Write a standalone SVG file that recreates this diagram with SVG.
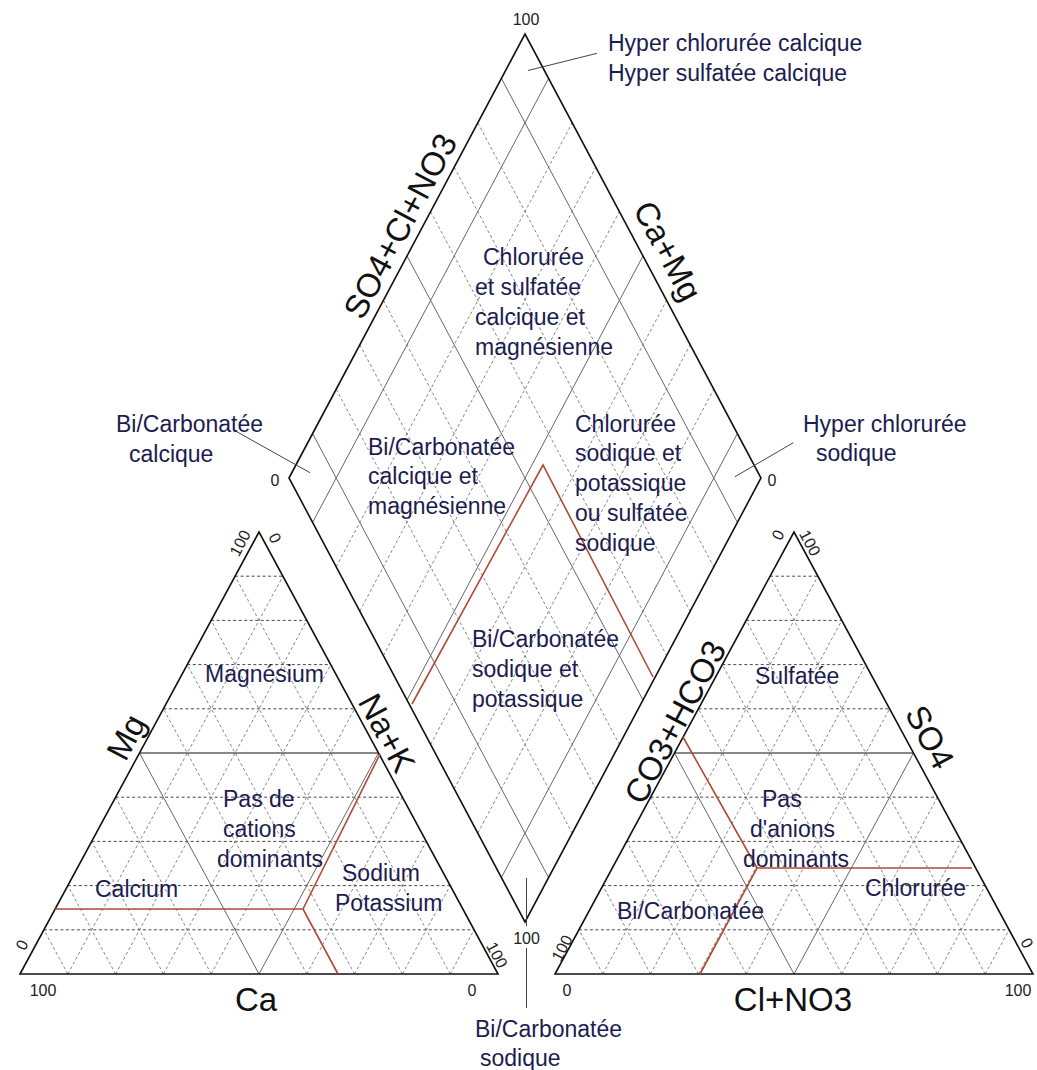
<svg xmlns="http://www.w3.org/2000/svg" xmlns:xlink="http://www.w3.org/1999/xlink" width="1037" height="1070" viewBox="0 0 1037 1070">
<style>
.out{fill:none;stroke:#111;stroke-width:1.6;stroke-linejoin:miter}
.hd{fill:none;stroke:#333;stroke-width:0.9;stroke-dasharray:3,2.5}
.dd{fill:none;stroke:#777;stroke-width:0.9;stroke-dasharray:3,2.5}
.hs{fill:none;stroke:#111;stroke-width:1}
.gs{fill:none;stroke:#666;stroke-width:1}
.red{fill:none;stroke:#b04a36;stroke-width:1.6}
.ptr{fill:none;stroke:#444;stroke-width:1}
.lbl{font-family:"Liberation Sans",Arial,sans-serif;font-size:23px;fill:#1c1c50}
.ax{font-family:"Liberation Sans",Arial,sans-serif;font-size:33px;fill:#111;text-anchor:middle}
.num{font-family:"Liberation Sans",Arial,sans-serif;font-size:16px;fill:#222;text-anchor:middle}
</style>
<defs>
<g id="tri">
<path class="hd" d="M23.9,-44.2H454.1M47.8,-88.4H430.2M71.7,-132.6H406.3M95.6,-176.8H382.4M143.4,-265.2H334.6M167.3,-309.4H310.7M191.2,-353.6H286.8M215.1,-397.8H262.9"/>
<path class="dd" d="M47.8,0L262.9,-397.8M95.6,0L286.8,-353.6M143.4,0L310.7,-309.4M191.2,0L334.6,-265.2M286.8,0L382.4,-176.8M334.6,0L406.3,-132.6M382.4,0L430.2,-88.4M430.2,0L454.1,-44.2M47.8,0L23.9,-44.2M95.6,0L47.8,-88.4M143.4,0L71.7,-132.6M191.2,0L95.6,-176.8M286.8,0L143.4,-265.2M334.6,0L167.3,-309.4M382.4,0L191.2,-353.6M430.2,0L215.1,-397.8"/>
<path class="gs" d="M119.5,-221L239,0L358.5,-221"/>
<path class="hs" d="M119.5,-221H358.5"/>
<path class="out" d="M0,0L478,0L239,-442Z"/>
</g>
</defs>

<g id="diamond" transform="translate(289,478)">
<path class="dd" d="M47.2,88.8L283.2,-355.2M70.8,133.2L306.8,-310.8M94.4,177.6L330.4,-266.4M141.6,266.4L377.6,-177.6M165.2,310.8L401.2,-133.2M188.8,355.2L424.8,-88.8M47.2,-88.8L283.2,355.2M70.8,-133.2L306.8,310.8M94.4,-177.6L330.4,266.4M141.6,-266.4L377.6,177.6M165.2,-310.8L401.2,133.2M188.8,-355.2L424.8,88.8"/>
<path class="gs" d="M23.6,44.4L259.6,-399.6M118,222L354,-222M212.4,399.6L448.4,-44.4M23.6,-44.4L259.6,399.6M118,-222L354,222M212.4,-399.6L448.4,44.4"/>
<path class="out" d="M0,0L236,-444L472,0L236,444Z"/>
</g>

<g id="cation-triangle">
<use xlink:href="#tri" href="#tri" transform="translate(20,974)"/>
</g>
<g id="anion-triangle">
<use xlink:href="#tri" href="#tri" transform="translate(555,974)"/>
</g>

<g id="connectors">
<path class="red" d="M55,909H303L380,754M303,909L338,974"/>
<path class="red" d="M412,704L543,465L653,677"/>
<path class="red" d="M700,974L757,868H972M757,868L683,737"/>
<path class="ptr" d="M528,70.5L597,53.3"/>
<path class="ptr" d="M310,472.7L236.7,431.7"/>
<path class="ptr" d="M735,476.7L793.3,442.7"/>
<path class="ptr" d="M526.5,878V926M526.5,948V1008"/>
</g>

<g id="numbers">
<text class="num" x="526" y="25">100</text>
<text class="num" x="275" y="486">0</text>
<text class="num" x="772" y="486">0</text>
<text class="num" x="526.5" y="944">100</text>
<text class="num" transform="translate(240,543) rotate(-62)" dy="0.35em">100</text>
<text class="num" transform="translate(275,538) rotate(62)" dy="0.35em">0</text>
<text class="num" transform="translate(22,945) rotate(-62)" dy="0.35em">0</text>
<text class="num" transform="translate(497,955) rotate(62)" dy="0.35em">100</text>
<text class="num" x="43" y="996">100</text>
<text class="num" x="472" y="996">0</text>
<text class="num" transform="translate(778,535) rotate(-62)" dy="0.35em">0</text>
<text class="num" transform="translate(810,543) rotate(62)" dy="0.35em">100</text>
<text class="num" transform="translate(562,948) rotate(-62)" dy="0.35em">100</text>
<text class="num" transform="translate(1027,943) rotate(62)" dy="0.35em">0</text>
<text class="num" x="567" y="996">0</text>
<text class="num" x="1018" y="996">100</text>
</g>

<g id="axis-labels">
<text class="ax" transform="translate(400,226) rotate(-62)" dy="0.35em">SO4+Cl+NO3</text>
<text class="ax" transform="translate(668,251) rotate(62)" dy="0.35em">Ca+Mg</text>
<text class="ax" transform="translate(126,737) rotate(-62)" dy="0.35em">Mg</text>
<text class="ax" transform="translate(387,733) rotate(62)" dy="0.35em">Na+K</text>
<text class="ax" transform="translate(675,722) rotate(-62)" dy="0.35em">CO3+HCO3</text>
<text class="ax" transform="translate(930,737) rotate(62)" dy="0.35em">SO4</text>
<text class="ax" x="256" y="1011">Ca</text>
<text class="ax" x="793" y="1011">Cl+NO3</text>
</g>

<g id="region-labels">
<g id="hyper-calcique"><text class="lbl" x="608" y="51">Hyper chlorurée calcique</text><text class="lbl" x="608" y="81">Hyper sulfatée calcique</text></g>
<g id="chloruree-sulfatee"><text class="lbl" x="483" y="265">Chlorurée</text><text class="lbl" x="475" y="295">et sulfatée</text><text class="lbl" x="475" y="325">calcique et</text><text class="lbl" x="475" y="355">magnésienne</text></g>
<g id="bicarb-calcique-left"><text class="lbl" x="116" y="432">Bi/Carbonatée</text><text class="lbl" x="129" y="462">calcique</text></g>
<g id="bicarb-calcique-mg"><text class="lbl" x="368" y="455">Bi/Carbonatée</text><text class="lbl" x="368" y="484">calcique et</text><text class="lbl" x="368" y="514">magnésienne</text></g>
<g id="chloruree-sodique"><text class="lbl" x="575" y="432">Chlorurée</text><text class="lbl" x="575" y="461">sodique et</text><text class="lbl" x="575" y="491">potassique</text><text class="lbl" x="575" y="521">ou sulfatée</text><text class="lbl" x="575" y="551">sodique</text></g>
<g id="hyper-sodique"><text class="lbl" x="803" y="432">Hyper chlorurée</text><text class="lbl" x="816" y="461">sodique</text></g>
<g id="bicarb-sodique-k"><text class="lbl" x="472" y="647">Bi/Carbonatée</text><text class="lbl" x="472" y="677">sodique et</text><text class="lbl" x="472" y="707">potassique</text></g>
<g id="bicarb-sodique"><text class="lbl" x="475" y="1037">Bi/Carbonatée</text><text class="lbl" x="480" y="1066">sodique</text></g>
<g id="magnesium"><text class="lbl" x="205" y="682">Magnésium</text></g>
<g id="pas-cations"><text class="lbl" x="223" y="807">Pas de</text><text class="lbl" x="223" y="837">cations</text><text class="lbl" x="217" y="867">dominants</text></g>
<g id="calcium"><text class="lbl" x="95" y="897">Calcium</text></g>
<g id="sodium"><text class="lbl" x="342" y="881">Sodium</text><text class="lbl" x="335" y="911">Potassium</text></g>
<g id="sulfatee"><text class="lbl" x="755" y="684">Sulfatée</text></g>
<g id="pas-anions"><text class="lbl" x="762" y="807">Pas</text><text class="lbl" x="750" y="837">d'anions</text><text class="lbl" x="743" y="867">dominants</text></g>
<g id="chloruree"><text class="lbl" x="865" y="896">Chlorurée</text></g>
<g id="bicarbonatee"><text class="lbl" x="617" y="919">Bi/Carbonatée</text></g>
</g>
</svg>
